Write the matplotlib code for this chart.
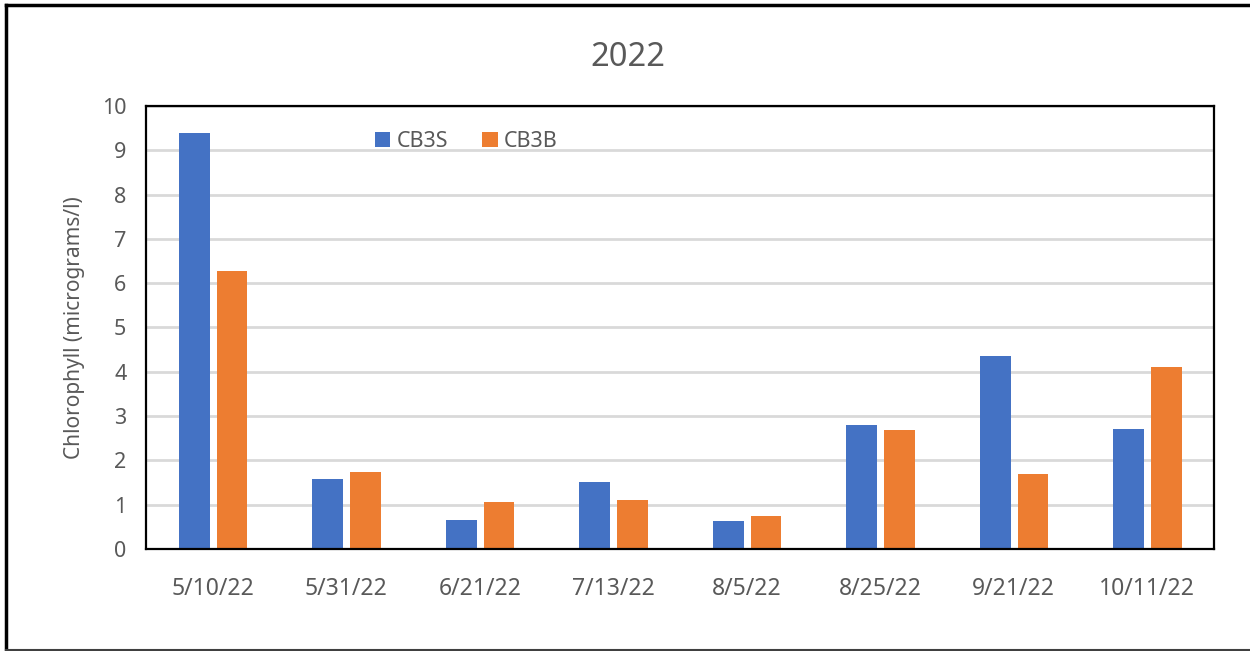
import matplotlib.pyplot as plt
import numpy as np
from matplotlib.lines import Line2D

dates = ['5/10/22', '5/31/22', '6/21/22', '7/13/22', '8/5/22', '8/25/22', '9/21/22', '10/11/22']
cb3s = [9.4, 1.58, 0.65, 1.51, 0.63, 2.8, 4.35, 2.71]
cb3b = [6.28, 1.74, 1.06, 1.1, 0.74, 2.69, 1.69, 4.11]

plt.rcParams['font.family'] = ['Noto Sans', 'DejaVu Sans']
txt = '#595959'

fig = plt.figure(figsize=(12.5, 6.51), dpi=100)
ax = fig.add_axes([0.1168, 0.1567, 0.8544, 0.6805])

x = np.arange(len(dates))
w = 0.23
ax.bar(x - 0.138, cb3s, w, color='#4472c4', label='CB3S', zorder=3)
ax.bar(x + 0.144, cb3b, w, color='#ed7d31', label='CB3B', zorder=3)

ax.set_xlim(-0.5, len(dates) - 0.5)
ax.set_ylim(0, 10)
ax.set_yticks(range(0, 11))
ax.set_xticks(x)
ax.set_xticklabels(dates)
ax.tick_params(axis='both', length=0, labelcolor=txt)
ax.tick_params(axis='x', pad=20, labelsize=16.5)
ax.tick_params(axis='y', pad=14, labelsize=15.5)
ax.grid(axis='y', color='#d9d9d9', linewidth=2, zorder=0)
for s in ax.spines.values():
    s.set_color('black')
    s.set_linewidth(1.6)
    s.set_zorder(4)

ax.set_ylabel('Chlorophyll (micrograms/l)', fontsize=15, color=txt, labelpad=12)
fig.text(0.5025, 0.912, '2022', ha='center', va='center', fontsize=23.5, color=txt)

leg = ax.legend(loc='center', bbox_to_anchor=(0.30, 0.92), ncol=2, frameon=False,
                fontsize=15.5, handlelength=0.7, handleheight=0.7, handletextpad=0.3,
                columnspacing=1.6, labelcolor=txt)

# outer chart frame
fig.add_artist(Line2D([6 / 1250, 6 / 1250], [0.002, 1 - 5 / 651], color='black', lw=2.5, transform=fig.transFigure))
fig.add_artist(Line2D([6 / 1250, 1.0], [1 - 5 / 651, 1 - 5 / 651], color='black', lw=2.5, transform=fig.transFigure))
fig.add_artist(Line2D([6 / 1250, 1.0], [0.002, 0.002], color='#404040', lw=1.5, transform=fig.transFigure))

fig.savefig('out.png', dpi=100)
